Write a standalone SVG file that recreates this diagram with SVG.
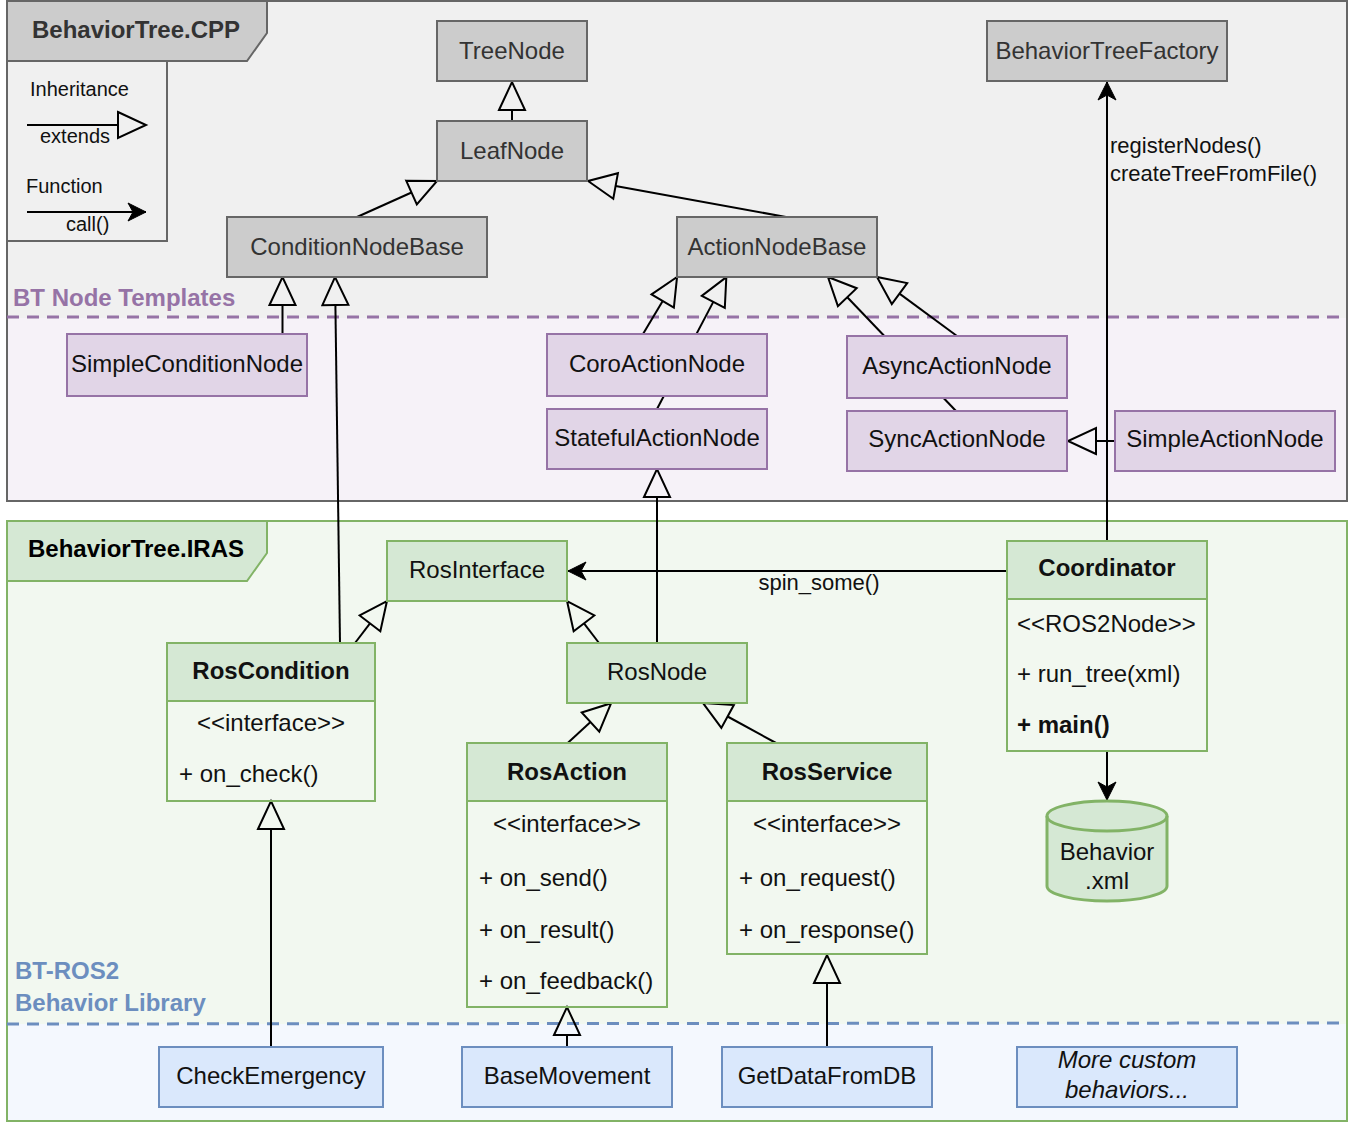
<svg xmlns="http://www.w3.org/2000/svg" width="1352" height="1122" viewBox="0 0 1352 1122">
<defs>
<style>
.t{font-family:"Liberation Sans",Arial,Helvetica,sans-serif;font-size:24px;fill:#111}
.c{text-anchor:middle}
.b{font-weight:bold}
.s22{font-size:22px}
.s20{font-size:20px}
.gray rect{fill:#cccccc;stroke:#666666;stroke-width:2}
.gray text{fill:#333333}
.purple rect{fill:#e1d5e7;stroke:#9673a6;stroke-width:2}
.green rect{fill:#d5e8d4;stroke:#82b366;stroke-width:2}
.green rect.body{fill:none}
.blue rect{fill:#dae8fc;stroke:#6c8ebf;stroke-width:2}
.conn path{fill:none;stroke:#000;stroke-width:2}
.ext{marker-end:url(#inh)}
.call{marker-end:url(#arr)}
</style>
<marker id="inh" markerUnits="userSpaceOnUse" markerWidth="30" markerHeight="30" refX="0" refY="0" orient="auto" overflow="visible">
<path d="M0,-13 L28,0 L0,13 Z" fill="none" stroke="#000" stroke-width="2" stroke-linejoin="miter"/>
</marker>
<marker id="arr" markerUnits="userSpaceOnUse" markerWidth="20" markerHeight="20" refX="0" refY="0" orient="auto" overflow="visible">
<path d="M0,0 L-18,-9 L-13,0 L-18,9 Z" fill="#000" stroke="#000" stroke-width="1"/>
</marker>
</defs>

<g id="container-cpp">
<rect x="7" y="1" width="1340" height="317" fill="#f0f0f0"/>
<rect x="7" y="318" width="1340" height="183" fill="#f6f2f8"/>
<rect x="7" y="1" width="1340" height="500" fill="none" stroke="#666666" stroke-width="2"/>
<line x1="7" y1="317" x2="1340" y2="317" stroke="#9673a6" stroke-width="3" stroke-dasharray="12 8"/>
<polygon points="7,1 267,1 267,33 247,61 7,61" fill="#cccccc" stroke="#666666" stroke-width="2"/>
<text class="t c b" x="136" y="37.5" style="fill:#333333">BehaviorTree.CPP</text>
<text class="t b" x="13" y="306" style="fill:#9673a6">BT Node Templates</text>
</g>

<g id="legend">
<rect x="7" y="61" width="160" height="180" fill="#f0f0f0" stroke="#666666" stroke-width="2"/>
<text class="t s20" x="30" y="96">Inheritance</text>
<path d="M27,125 L118,125" fill="none" stroke="#000" stroke-width="2" marker-end="url(#inh)"/>
<text class="t s20" x="40" y="143">extends</text>
<text class="t s20" x="26" y="193">Function</text>
<path d="M27,212 L146,212" fill="none" stroke="#000" stroke-width="2" marker-end="url(#arr)"/>
<text class="t s20" x="66" y="231">call()</text>
</g>

<g id="container-iras">
<rect x="7" y="521" width="1340" height="503" fill="#f2f8f0"/>
<rect x="7" y="1024" width="1340" height="97" fill="#f4f8fe"/>
<rect x="7" y="521" width="1340" height="600" fill="none" stroke="#82b366" stroke-width="2"/>
<line x1="7" y1="1024" x2="1340" y2="1023" stroke="#6c8ebf" stroke-width="3" stroke-dasharray="12 8"/>
<polygon points="7,521 267,521 267,553 247,581 7,581" fill="#d5e8d4" stroke="#82b366" stroke-width="2"/>
<text class="t c b" x="136" y="557" style="fill:#000">BehaviorTree.IRAS</text>
<text class="t b" x="15" y="979" style="fill:#6c8ebf">BT-ROS2</text>
<text class="t b" x="15" y="1011" style="fill:#6c8ebf">Behavior Library</text>
</g>

<g id="connectors" class="conn">
<path class="ext" d="M512,121 L512,110"/>
<path class="ext" d="M357,217 L411.5,192.5"/>
<path class="ext" d="M786,217 L615.6,186"/>
<path class="ext" d="M282.5,334 L282.5,305"/>
<path class="ext" d="M340,643 L335.4,305"/>
<path class="ext" d="M657,643 L657,497"/>
<path class="ext" d="M643,334 L662.7,301"/>
<path class="ext" d="M657,409 L713.3,301.9"/>
<path class="ext" d="M957,336 L899.5,293.6"/>
<path class="ext" d="M956,411 L847.3,297.2"/>
<path class="ext" d="M1115,441 L1096,441"/>
<path class="ext" d="M355,643 L370,623.3"/>
<path class="ext" d="M599,643 L584,623.3"/>
<path class="ext" d="M567.7,743 L590.5,722.1"/>
<path class="ext" d="M776,743 L727.6,716.5"/>
<path class="ext" d="M271,1047 L271,829"/>
<path class="ext" d="M567,1047 L567,1035"/>
<path class="ext" d="M827,1047 L827,983"/>
<path class="call" d="M1107,541 L1107,82"/>
<path class="call" d="M1007,571 L568,571"/>
<path class="call" d="M1107,751 L1107,800"/>
<text class="t s22" x="1110" y="153">registerNodes()</text>
<text class="t s22" x="1110" y="181">createTreeFromFile()</text>
<text class="t s22 c" x="819" y="590">spin_some()</text>
</g>

<g id="TreeNode" class="gray"><rect x="437" y="21" width="150" height="60"/><text class="t c" x="512" y="58.5">TreeNode</text></g>
<g id="LeafNode" class="gray"><rect x="437" y="121" width="150" height="60"/><text class="t c" x="512" y="158.5">LeafNode</text></g>
<g id="BehaviorTreeFactory" class="gray"><rect x="987" y="21" width="240" height="60"/><text class="t c" x="1107" y="58.5">BehaviorTreeFactory</text></g>
<g id="ConditionNodeBase" class="gray"><rect x="227" y="217" width="260" height="60"/><text class="t c" x="357" y="254.5">ConditionNodeBase</text></g>
<g id="ActionNodeBase" class="gray"><rect x="677" y="217" width="200" height="60"/><text class="t c" x="777" y="254.5">ActionNodeBase</text></g>

<g id="SimpleConditionNode" class="purple"><rect x="67" y="334" width="240" height="62"/><text class="t c" x="187" y="372">SimpleConditionNode</text></g>
<g id="CoroActionNode" class="purple"><rect x="547" y="334" width="220" height="62"/><text class="t c" x="657" y="372">CoroActionNode</text></g>
<g id="StatefulActionNode" class="purple"><rect x="547" y="409" width="220" height="60"/><text class="t c" x="657" y="446">StatefulActionNode</text></g>
<g id="AsyncActionNode" class="purple"><rect x="847" y="336" width="220" height="62"/><text class="t c" x="957" y="374">AsyncActionNode</text></g>
<g id="SyncActionNode" class="purple"><rect x="847" y="411" width="220" height="60"/><text class="t c" x="957" y="447">SyncActionNode</text></g>
<g id="SimpleActionNode" class="purple"><rect x="1115" y="411" width="220" height="60"/><text class="t c" x="1225" y="447">SimpleActionNode</text></g>

<g id="RosInterface" class="green"><rect x="387" y="541" width="180" height="60"/><text class="t c" x="477" y="578">RosInterface</text></g>
<g id="RosNode" class="green"><rect x="567" y="643" width="180" height="60"/><text class="t c" x="657" y="680">RosNode</text></g>

<g id="RosCondition" class="green">
<rect class="body" x="167" y="643" width="208" height="158"/>
<rect x="167" y="643" width="208" height="58"/>
<text class="t c b" x="271" y="679">RosCondition</text>
<text class="t c" x="271" y="731">&lt;&lt;interface&gt;&gt;</text>
<text class="t" x="179" y="782">+ on_check()</text>
</g>
<g id="RosAction" class="green">
<rect class="body" x="467" y="743" width="200" height="264"/>
<rect x="467" y="743" width="200" height="58"/>
<text class="t c b" x="567" y="780">RosAction</text>
<text class="t c" x="567" y="832">&lt;&lt;interface&gt;&gt;</text>
<text class="t" x="479" y="886">+ on_send()</text>
<text class="t" x="479" y="938">+ on_result()</text>
<text class="t" x="479" y="989">+ on_feedback()</text>
</g>
<g id="RosService" class="green">
<rect class="body" x="727" y="743" width="200" height="211"/>
<rect x="727" y="743" width="200" height="58"/>
<text class="t c b" x="827" y="780">RosService</text>
<text class="t c" x="827" y="832">&lt;&lt;interface&gt;&gt;</text>
<text class="t" x="739" y="886">+ on_request()</text>
<text class="t" x="739" y="938">+ on_response()</text>
</g>
<g id="Coordinator" class="green">
<rect class="body" x="1007" y="541" width="200" height="210"/>
<rect x="1007" y="541" width="200" height="58"/>
<text class="t c b" x="1107" y="576">Coordinator</text>
<text class="t" x="1017" y="632">&lt;&lt;ROS2Node&gt;&gt;</text>
<text class="t" x="1017" y="682">+ run_tree(xml)</text>
<text class="t b" x="1017" y="733">+ main()</text>
</g>
<g id="BehaviorXml">
<path d="M1047,816 A60,15 0 0 1 1167,816 L1167,886 A60,15 0 0 1 1047,886 Z" fill="#d5e8d4" stroke="#82b366" stroke-width="3"/>
<path d="M1047,816 A60,15 0 0 0 1167,816" fill="none" stroke="#82b366" stroke-width="3"/>
<text class="t c" x="1107" y="860">Behavior</text>
<text class="t c" x="1107" y="889">.xml</text>
</g>

<g id="CheckEmergency" class="blue"><rect x="159" y="1047" width="224" height="60"/><text class="t c" x="271" y="1084">CheckEmergency</text></g>
<g id="BaseMovement" class="blue"><rect x="462" y="1047" width="210" height="60"/><text class="t c" x="567" y="1084">BaseMovement</text></g>
<g id="GetDataFromDB" class="blue"><rect x="722" y="1047" width="210" height="60"/><text class="t c" x="827" y="1084">GetDataFromDB</text></g>
<g id="MoreCustom" class="blue"><rect x="1017" y="1047" width="220" height="60"/><text class="t c" x="1127" y="1068" font-style="italic">More custom</text><text class="t c" x="1127" y="1098" font-style="italic">behaviors...</text></g>
</svg>
